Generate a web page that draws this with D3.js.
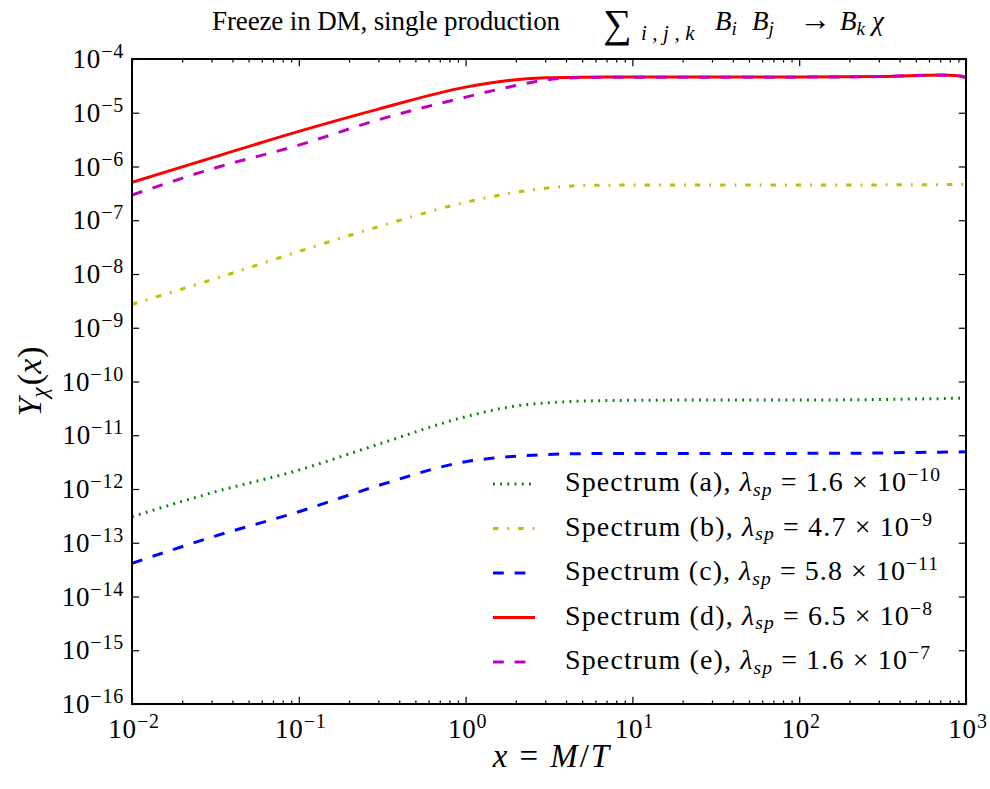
<!DOCTYPE html>
<html>
<head>
<meta charset="utf-8">
<script src="https://cdn.jsdelivr.net/npm/d3@7"></script>
<style>
  html, body { margin: 0; padding: 0; background: #fff; }
  svg { display: block; }
  text { font-family: "Liberation Serif", "DejaVu Serif", serif; fill: #000; }
</style>
</head>
<body>
<svg id="chart" width="990" height="789"></svg>
<script>
// x = M/T sample points
const xValues = [0.01, 0.03, 0.1, 0.3, 1, 1.8, 3, 5, 10, 30, 100, 300, 500, 700, 900, 1000];

// Y_chi(x) for each spectrum
const spectrumA = [3.05e-13, 8.5e-13, 2.25e-12, 6.8e-12, 2.21e-11, 3.33e-11, 3.98e-11, 4.31e-11, 4.47e-11, 4.52e-11, 4.52e-11, 4.62e-11, 4.73e-11, 4.8e-11, 4.9e-11, 4.93e-11];
const spectrumB = [2.73e-9, 7.8e-9, 2.63e-8, 7.6e-8, 2.16e-7, 3.13e-7, 3.93e-7, 4.42e-7, 4.52e-7, 4.52e-7, 4.52e-7, 4.55e-7, 4.58e-7, 4.6e-7, 4.62e-7, 4.62e-7];
const spectrumC = [4.14e-14, 1.27e-13, 3.78e-13, 1.16e-12, 3.22e-12, 3.98e-12, 4.37e-12, 4.54e-12, 4.6e-12, 4.6e-12, 4.6e-12, 4.68e-12, 4.79e-12, 4.84e-12, 4.9e-12, 4.93e-12];
const spectrumD = [5.08e-7, 1.45e-6, 4.5e-6, 1.17e-5, 3.0e-5, 3.98e-5, 4.47e-5, 4.6e-5, 4.62e-5, 4.62e-5, 4.62e-5, 4.73e-5, 4.95e-5, 5.05e-5, 4.9e-5, 4.52e-5];
const spectrumE = [2.95e-7, 9.0e-7, 2.5e-6, 7.4e-6, 1.95e-5, 2.99e-5, 4.07e-5, 4.52e-5, 4.6e-5, 4.6e-5, 4.6e-5, 4.7e-5, 4.9e-5, 5.0e-5, 4.9e-5, 4.58e-5];

// legend labels: spectrum letter, coupling mantissa, coupling exponent
const seriesNames = ["a", "b", "c", "d", "e"];
const lambdaMantissa = ["1.6", "4.7", "5.8", "6.5", "1.6"];
const lambdaExponent = ["−10", "−9", "−11", "−8", "−7"];

// axis tick exponents
const xTickExponents = [-2, -1, 0, 1, 2, 3];
const yTickExponents = [-16, -15, -14, -13, -12, -11, -10, -9, -8, -7, -6, -5, -4];

const seriesValues = [spectrumA, spectrumB, spectrumC, spectrumD, spectrumE];
const seriesColors = ["#008000", "#bfbf00", "#0000ff", "#ff0000", "#bf00bf"];
const seriesDash = ["1.8,5.4", "5.4,9,1.8,9", "10.8,10.8", null, "10.8,10.8"];

const plot = { left: 132, top: 59, right: 966, bottom: 704 };

const svg = d3.select("#chart");

const x = d3.scaleLog().domain([1e-2, 1e3]).range([plot.left, plot.right]);
const y = d3.scaleLog().domain([1e-16, 1e-4]).range([plot.bottom, plot.top]);

svg.append("defs").append("clipPath").attr("id", "plot-clip")
  .append("rect")
  .attr("x", plot.left).attr("y", plot.top)
  .attr("width", plot.right - plot.left).attr("height", plot.bottom - plot.top);

// curves
const line = d3.line()
  .x(d => x(d[0]))
  .y(d => y(d[1]))
  .curve(d3.curveMonotoneX);

const curves = svg.append("g").attr("clip-path", "url(#plot-clip)");
seriesValues.forEach((vals, i) => {
  curves.append("path")
    .datum(xValues.map((xv, j) => [xv, vals[j]]))
    .attr("d", line)
    .attr("fill", "none")
    .attr("stroke", seriesColors[i])
    .attr("stroke-width", 3)
    .attr("stroke-dasharray", seriesDash[i])
    .attr("stroke-linecap", "butt");
});

// ticks (pointing inward on all four sides)
const minorX = [];
for (let e = -2; e < 3; e++) for (let m = 2; m <= 9; m++) minorX.push(m * Math.pow(10, e));
const majorX = xTickExponents.map(e => Math.pow(10, e));
const majorY = yTickExponents.map(e => Math.pow(10, e));

function styleAxis(g) {
  g.select(".domain").remove();
  g.selectAll(".tick line").attr("stroke", "#000").attr("stroke-width", 1.2);
  g.selectAll(".tick text").remove();
}

svg.append("g").attr("transform", `translate(0,${plot.bottom})`)
  .call(d3.axisBottom(x).tickValues(minorX).tickSize(-3.6).tickFormat("")).call(styleAxis);
svg.append("g").attr("transform", `translate(0,${plot.top})`)
  .call(d3.axisTop(x).tickValues(minorX).tickSize(-3.6).tickFormat("")).call(styleAxis);
svg.append("g").attr("transform", `translate(0,${plot.bottom})`)
  .call(d3.axisBottom(x).tickValues(majorX).tickSize(-7.2).tickFormat("")).call(styleAxis);
svg.append("g").attr("transform", `translate(0,${plot.top})`)
  .call(d3.axisTop(x).tickValues(majorX).tickSize(-7.2).tickFormat("")).call(styleAxis);
svg.append("g").attr("transform", `translate(${plot.left},0)`)
  .call(d3.axisLeft(y).tickValues(majorY).tickSize(-7.2).tickFormat("")).call(styleAxis);
svg.append("g").attr("transform", `translate(${plot.right},0)`)
  .call(d3.axisRight(y).tickValues(majorY).tickSize(-7.2).tickFormat("")).call(styleAxis);

// frame
svg.append("rect")
  .attr("x", plot.left).attr("y", plot.top)
  .attr("width", plot.right - plot.left).attr("height", plot.bottom - plot.top)
  .attr("fill", "none").attr("stroke", "#000").attr("stroke-width", 2);

// power-of-ten label helper
function powerLabel(sel, exp) {
  sel.append("tspan").text("10");
  sel.append("tspan").attr("dy", "-0.5em").attr("font-size", "0.74em")
    .text(exp < 0 ? "−" + Math.abs(exp) : String(exp));
}

xTickExponents.forEach(e => {
  const t = svg.append("text")
    .attr("x", x(Math.pow(10, e)) + 2)
    .attr("y", plot.bottom + 34)
    .attr("text-anchor", "middle")
    .attr("font-size", 27)
    .attr("letter-spacing", 0.8);
  powerLabel(t, e);
});

yTickExponents.forEach(e => {
  const t = svg.append("text")
    .attr("x", plot.left - 8)
    .attr("y", y(Math.pow(10, e)) + 9)
    .attr("text-anchor", "end")
    .attr("font-size", 27)
    .attr("letter-spacing", 0.8);
  powerLabel(t, e);
});

// x axis title
const xl = svg.append("text")
  .attr("x", (plot.left + plot.right) / 2 + 2)
  .attr("y", 767)
  .attr("text-anchor", "middle")
  .attr("font-size", 33);
xl.append("tspan").attr("font-style", "italic").text("x");
xl.append("tspan").attr("dx", 12).text("=");
xl.append("tspan").attr("dx", 12).attr("font-style", "italic").text("M");
xl.append("tspan").attr("dx", 2).text("/");
xl.append("tspan").attr("dx", 2).attr("font-style", "italic").text("T");

// y axis title
const yl = svg.append("text")
  .attr("transform", `translate(41,${(plot.top + plot.bottom) / 2}) rotate(-90)`)
  .attr("text-anchor", "middle")
  .attr("font-size", 34);
yl.append("tspan").attr("font-style", "italic").text("Y");
yl.append("tspan").attr("font-style", "italic").attr("font-size", "0.7em").attr("dy", "0.25em").text("χ");
yl.append("tspan").attr("dy", "-0.175em").attr("dx", 2).text("(");
yl.append("tspan").attr("font-style", "italic").text("x");
yl.append("tspan").attr("dx", 1).text(")");

// title: text part and formula part
svg.append("text")
  .attr("x", 212)
  .attr("y", 30)
  .attr("font-size", 27)
  .attr("textLength", 348)
  .attr("lengthAdjust", "spacing")
  .text("Freeze in DM,  single production");

const formula = svg.append("text").attr("y", 30).attr("font-size", 27);
formula.append("tspan").attr("x", 603).attr("font-size", 40).attr("dy", 7).text("∑");
formula.append("tspan").attr("x", 641).attr("font-style", "italic").attr("font-size", 21).attr("dy", 3)
  .attr("letter-spacing", 5.5).text("i,j,k");
formula.append("tspan").attr("x", 715).attr("font-style", "italic").attr("dy", -10).text("B");
formula.append("tspan").attr("font-style", "italic").attr("font-size", 19).attr("dy", 5).text("i");
formula.append("tspan").attr("x", 752).attr("font-style", "italic").attr("dy", -5).text("B");
formula.append("tspan").attr("font-style", "italic").attr("font-size", 19).attr("dy", 5).text("j");
formula.append("tspan").attr("x", 799).attr("font-size", 32).attr("dy", -5).text("→");
formula.append("tspan").attr("x", 840).attr("font-style", "italic").text("B");
formula.append("tspan").attr("font-style", "italic").attr("font-size", 19).attr("dy", 5).text("k");
formula.append("tspan").attr("x", 872).attr("font-style", "italic").attr("dy", -5).text("χ");

// legend
const legendTop = 484, legendStep = 44.5;
const legendWidths = [375, 367, 373, 367, 365];
seriesNames.forEach((name, i) => {
  const ly = legendTop + i * legendStep;
  svg.append("line")
    .attr("x1", 493).attr("x2", 535).attr("y1", ly).attr("y2", ly)
    .attr("stroke", seriesColors[i]).attr("stroke-width", 3)
    .attr("stroke-dasharray", seriesDash[i]);
  const t = svg.append("text")
    .attr("x", 565).attr("y", ly + 7)
    .attr("font-size", 28)
    .attr("textLength", legendWidths[i])
    .attr("lengthAdjust", "spacing");
  t.append("tspan").text(`Spectrum (${name}), `);
  t.append("tspan").attr("font-style", "italic").text("λ");
  t.append("tspan").attr("font-style", "italic").attr("font-size", "0.7em").attr("dy", "0.25em").text("sp");
  t.append("tspan").attr("dy", "-0.175em").text(` = ${lambdaMantissa[i]} × 10`);
  t.append("tspan").attr("font-size", "0.7em").attr("dy", "-0.5em").text(lambdaExponent[i]);
});
</script>
</body>
</html>
